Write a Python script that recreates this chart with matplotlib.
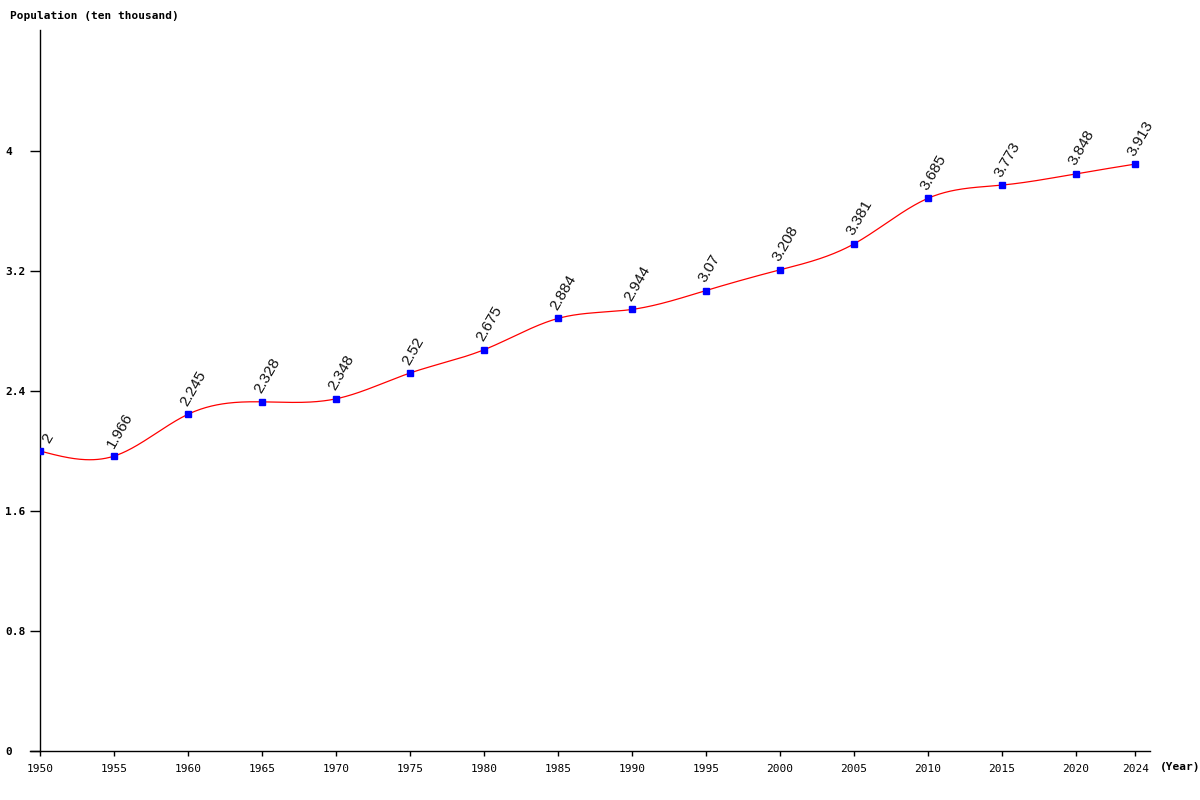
import numpy as np
import matplotlib.pyplot as plt

years = [1950, 1955, 1960, 1965, 1970, 1975, 1980, 1985, 1990, 1995, 2000, 2005, 2010, 2015, 2020, 2024]
population = [2, 1.966, 2.245, 2.328, 2.348, 2.52, 2.675, 2.884, 2.944, 3.07, 3.208, 3.381, 3.685, 3.773, 3.848, 3.913]
labels = ['2', '1.966', '2.245', '2.328', '2.348', '2.52', '2.675', '2.884', '2.944', '3.07', '3.208', '3.381',
          '3.685', '3.773', '3.848', '3.913']
y_ticks = [0, 0.8, 1.6, 2.4, 3.2, 4]
y_tick_labels = ['0', '0.8', '1.6', '2.4', '3.2', '4']
x_ticks = years


def natural_spline(x, y, n=800):
    # natural cubic spline, only used to draw a smooth line through the points
    x = np.asarray(x, float)
    y = np.asarray(y, float)
    k = len(x)
    h = np.diff(x)
    A = np.zeros((k, k))
    b = np.zeros(k)
    A[0, 0] = 1
    A[-1, -1] = 1
    for i in range(1, k - 1):
        A[i, i - 1] = h[i - 1]
        A[i, i] = 2 * (h[i - 1] + h[i])
        A[i, i + 1] = h[i]
        b[i] = 3 * ((y[i + 1] - y[i]) / h[i] - (y[i] - y[i - 1]) / h[i - 1])
    c = np.linalg.solve(A, b)
    xs = np.linspace(x[0], x[-1], n)
    idx = np.clip(np.searchsorted(x, xs) - 1, 0, k - 2)
    dx = xs - x[idx]
    bb = (y[idx + 1] - y[idx]) / h[idx] - h[idx] * (2 * c[idx] + c[idx + 1]) / 3
    dd = (c[idx + 1] - c[idx]) / (3 * h[idx])
    ys = y[idx] + bb * dx + c[idx] * dx ** 2 + dd * dx ** 3
    return xs, ys


fig = plt.figure(figsize=(12, 8), dpi=100)
ax = fig.add_axes([40 / 1200, 1 - 751 / 800, 1110 / 1200, 721 / 800])

xs, ys = natural_spline(years, population)
ax.plot(xs, ys, color='red', linewidth=0.9, zorder=2)
ax.plot(years, population, linestyle='none', marker='s', markersize=4,
        color='blue', zorder=3)

for i, (x, y, t) in enumerate(zip(years, population, labels)):
    # first label is pushed right so it doesn't cross the axis
    off = (12, 6) if i == 0 else (2, 6)
    ax.annotate(t, (x, y), xytext=off, textcoords='offset pixels',
                rotation=60, rotation_mode='anchor', ha='left', va='bottom',
                fontsize=11, family='Liberation Sans', color='#111111')

ax.set_xlim(1950, 2025)
ax.set_ylim(0, 4.807)

for side in ['top', 'right']:
    ax.spines[side].set_visible(False)
ax.spines['left'].set_linewidth(1)
ax.spines['bottom'].set_linewidth(1)
ax.spines['bottom'].set_bounds(1950 - 10 / 14.8, 2025)

ax.set_xticks(x_ticks)
ax.set_xticklabels([str(v) for v in x_ticks], family='DejaVu Sans Mono', fontsize=8)
ax.set_yticks(y_ticks)
ax.set_yticklabels(y_tick_labels, family='DejaVu Sans Mono', fontsize=8, fontweight='bold')
ax.tick_params(axis='x', length=3.5, width=1, pad=6)
ax.tick_params(axis='y', length=7.2, width=1, pad=18)
for lbl in ax.get_yticklabels():
    lbl.set_horizontalalignment('left')

fig.text(10 / 1200, 1 - 16 / 800, 'Population (ten thousand)', family='DejaVu Sans Mono',
         fontsize=8, fontweight='bold', va='center', ha='left')
fig.text(1160 / 1200, 1 - 767 / 800, '(Year)', family='DejaVu Sans Mono',
         fontsize=8, fontweight='bold', va='center', ha='left')

fig.savefig('out.png', dpi=100)
